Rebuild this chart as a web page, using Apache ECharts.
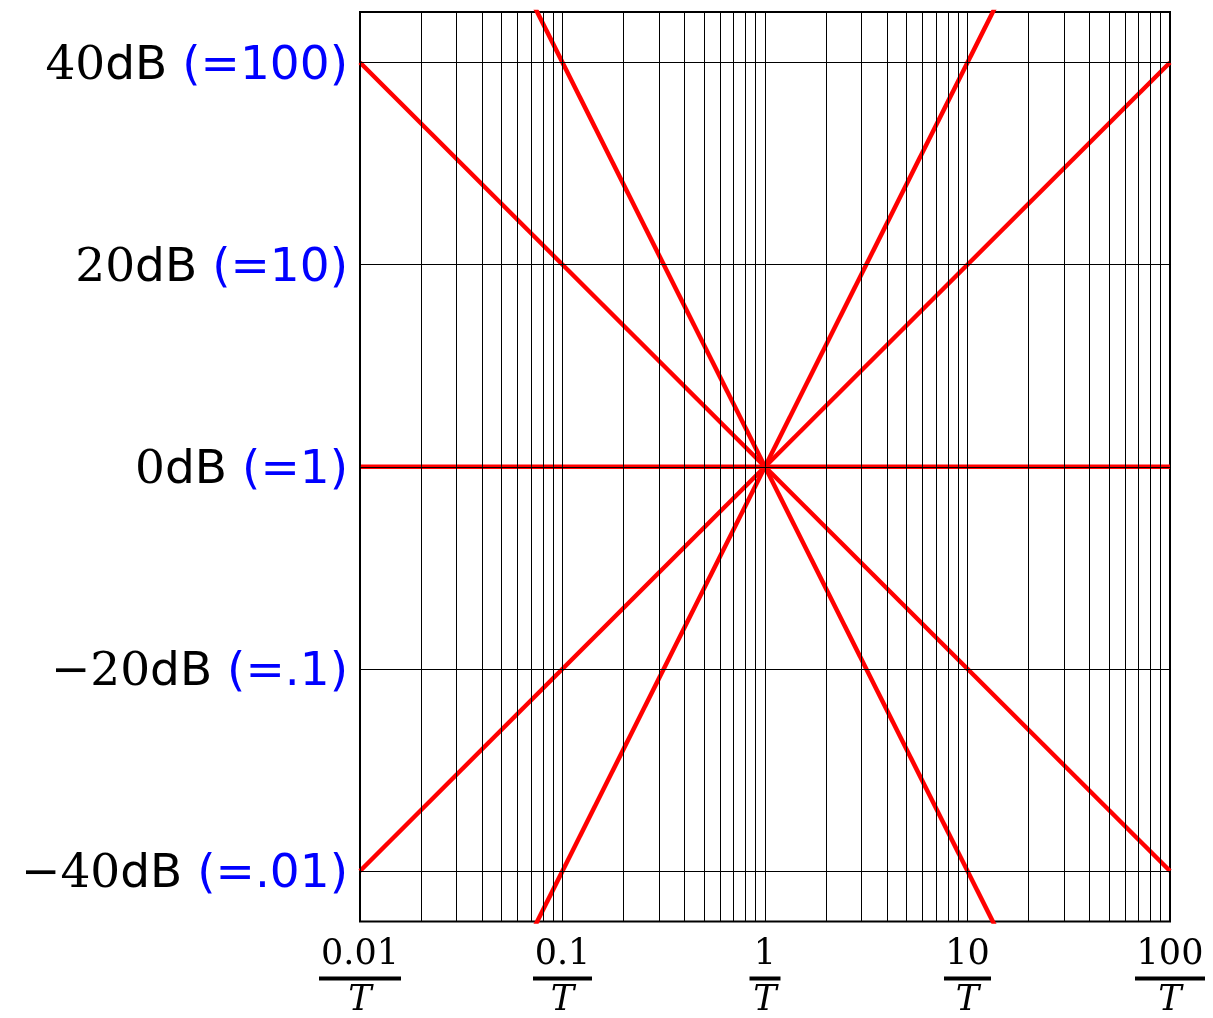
<!DOCTYPE html>
<html>
<head>
<meta charset="utf-8">
<title>Bode asymptotes</title>
<script src="https://cdn.jsdelivr.net/npm/echarts@6/dist/echarts.min.js"></script>
<style>
  html, body { margin: 0; padding: 0; background: #fff; }
  #main { width: 1213px; height: 1018px; }
</style>
</head>
<body>
<div id="main"></div>
<script>
// x ticks (multiples of 1/T) and y ticks (dB)
const xTicks = [0.01, 0.1, 1, 10, 100];
const xTickText = ['0.01', '0.1', '1', '10', '100'];
const yTicks = [-40, -20, 0, 20, 40];
const yTickDb = ['\u221240', '\u221220', '0', '20', '40'];
const yTickRatio = ['(=.01)', '(=.1)', '(=1)', '(=10)', '(=100)'];

// decades and in-between multiples for the log grid
const decades = [0.01, 0.1, 1, 10];
const multiples = [1, 2, 3, 4, 5, 6, 7, 8, 9];

// asymptote lines through (1/T, 0dB), endpoints at 0.01/T and 100/T
const flat = [[0.01, 0], [100, 0]];
const up20 = [[0.01, -40], [100, 40]];
const down20 = [[0.01, 40], [100, -40]];
const up40 = [[0.01, -80], [100, 80]];
const down40 = [[0.01, 80], [100, -80]];

const vGrid = [];
decades.forEach(d => multiples.forEach(m => vGrid.push(+(d * m).toPrecision(3))));

const barWidth = { '0.01': 82, '0.1': 59, '1': 31, '10': 47, '100': 70 };

const redLine = data => ({
    type: 'line',
    data: data,
    symbol: 'none',
    silent: true,
    clip: true,
    z: 2,
    lineStyle: { color: '#ff0000', width: 4.5 }
});

const options = {
    animation: false,
    grid: {
        left: 360, right: 43, top: 12, bottom: 95,
        show: true, borderColor: '#000', borderWidth: 2, backgroundColor: 'transparent'
    },
    xAxis: {
        type: 'log',
        logBase: 10,
        min: 0.01,
        max: 100,
        axisLine: { show: false },
        axisTick: { show: false },
        splitLine: { show: false },
        axisLabel: {
            customValues: xTicks,
            margin: 14,
            formatter: function (v) {
                let i = xTicks.findIndex(t => Math.abs(t - v) < v * 1e-6);
                let s = i >= 0 ? xTickText[i] : String(v);
                return '{n|' + s + '}\n{b' + xTickText.indexOf(s) + '|}\n{t|T}';
            },
            rich: Object.assign({
                n: { fontFamily: 'DejaVu Serif', fontSize: 35, color: '#000', lineHeight: 38 },
                t: { fontFamily: 'DejaVu Serif', fontStyle: 'italic', fontSize: 35, color: '#000', lineHeight: 34 }
            }, Object.fromEntries(xTickText.map((s, i) => ['b' + i, {
                width: barWidth[s], height: 4, lineHeight: 10, backgroundColor: '#000'
            }])))
        }
    },
    yAxis: {
        type: 'value',
        min: -45,
        max: 45,
        axisLine: { show: false },
        axisTick: { show: false },
        splitLine: { show: false },
        axisLabel: {
            customValues: yTicks,
            margin: 12,
            padding: [8, 0, 0, 0],
            formatter: function (v) {
                let i = yTicks.indexOf(v);
                if (i < 0) return '';
                return '{n|' + yTickDb[i] + '}{u|dB\u00a0}{r|' + yTickRatio[i] + '}';
            },
            rich: {
                n: { fontFamily: 'DejaVu Serif', fontSize: 47, color: '#000' },
                u: { fontFamily: 'DejaVu Sans', fontSize: 47, color: '#000' },
                r: { fontFamily: 'DejaVu Sans', fontSize: 47, color: '#0000ff' }
            }
        }
    },
    series: [
        redLine(flat),
        redLine(up20),
        redLine(down20),
        redLine(up40),
        redLine(down40),
        {
            type: 'line',
            data: [],
            silent: true,
            z: 5,
            markLine: {
                silent: true,
                symbol: 'none',
                animation: false,
                label: { show: false },
                lineStyle: { color: '#000', width: 1, type: 'solid' },
                emphasis: { disabled: true },
                data: vGrid.map(v => ({ xAxis: v }))
                    .concat(yTicks.map(v => ({ yAxis: v })))
            }
        }
    ]
};

const E = echarts.init(document.getElementById('main'));
window.onresize = function () {
    E.resize();
};
E.setOption(options);
</script>
</body>
</html>
